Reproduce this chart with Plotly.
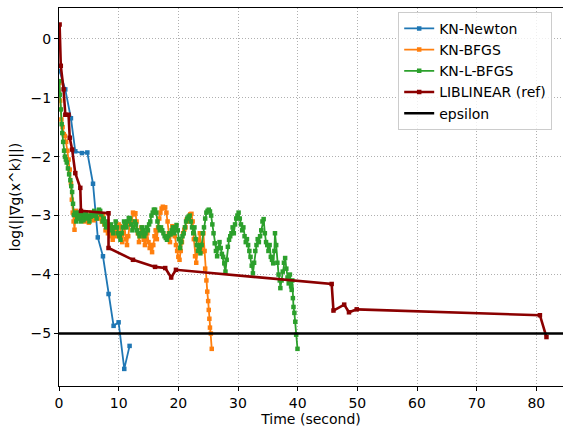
import plotly.graph_objects as go

# ---------------- data ----------------
newton_t = [0.1, 1.05, 2.0, 2.73, 3.85, 4.75, 5.7, 6.5, 7.37, 8.31, 9.15, 9.99, 10.94, 11.83]
newton_g = [-0.55, -0.86, -1.35, -1.91, -1.94, -1.93, -2.46, -3.37, -3.69, -4.33, -4.87, -4.81, -5.6, -5.21]

bfgs_t = [0.05, 0.2, 0.4, 0.6, 0.8, 1.0, 1.2, 1.4, 1.6, 1.8, 2.0, 2.15, 2.3, 2.45, 2.6, 2.8,
          3.0, 3.2, 3.4, 3.6, 3.8, 4.0, 4.2, 4.4, 4.6, 4.8, 5.0, 5.2, 5.4, 5.6, 5.8, 6.0,
          6.2, 6.4, 6.6, 6.8, 7.0, 7.2, 7.4, 7.6, 7.8, 8.0, 8.2, 8.4, 8.6, 8.8, 9.0, 9.2,
          9.4, 9.6, 9.8, 10.0, 10.2, 10.4, 10.6, 10.8, 11.0, 11.2, 11.4, 11.6, 11.8, 12.0,
          12.2, 12.4, 12.6, 12.8, 13.0, 13.2, 13.4, 13.6, 13.8, 14.0, 14.2, 14.4, 14.6, 14.8,
          15.0, 15.2, 15.4, 15.6, 15.8, 16.0, 16.2, 16.4, 16.6, 16.8, 17.0, 17.2, 17.4, 17.6,
          17.8, 18.0, 18.2, 18.4, 18.6, 18.8, 19.0, 19.2, 19.4, 19.6, 19.8, 20.0, 20.2, 20.4,
          20.6, 20.8, 21.0, 21.2, 21.4, 21.6, 21.8, 22.0, 22.2, 22.4, 22.6, 22.8, 23.0, 23.2,
          23.4, 23.6, 23.8, 24.0, 24.2, 24.4, 24.5, 24.7, 24.85, 25.0, 25.1, 25.2, 25.3, 25.45, 25.6]
bfgs_g = [-0.75, -1.05, -1.37, -1.5, -1.62, -1.65, -1.75, -1.9, -2.05, -2.22, -2.45, -2.73, -2.95, -3.1, -3.24, -2.92,
          -2.98, -3.05, -2.95, -3.02, -3.08, -2.97, -3.05, -3.1, -3.0, -3.06, -3.12, -3.0, -2.95, -3.05, -3.08, -3.02,
          -2.98, -3.05, -3.0, -2.95, -3.05, -3.1, -3.0, -3.15, -3.25, -3.2, -3.3, -3.25, -3.35, -3.3, -3.41, -3.3,
          -3.2, -3.35, -3.25, -3.15, -3.18, -3.3, -3.45, -3.3, -3.2, -3.4, -3.5, -3.35, -3.15, -3.05,
          -3.1, -2.95, -2.98, -2.96, -3.1, -3.3, -3.45, -3.3, -3.2, -3.35, -3.41, -3.5, -3.4, -3.3,
          -3.45, -3.55, -3.5, -3.62, -3.5, -3.35, -3.25, -3.4, -3.2, -3.05, -2.95, -2.88, -2.85, -2.87,
          -2.86, -2.95, -3.1, -3.3, -3.45, -3.3, -3.18, -3.2, -3.35, -3.5, -3.6, -3.7, -3.75, -3.6,
          -3.45, -3.3, -3.24, -3.2, -3.07, -3.1, -3.02, -2.98, -2.97, -3.1, -3.4, -3.69, -3.8, -3.6,
          -3.41, -3.3, -3.5, -3.61, -3.3, -3.6, -3.9, -4.1, -4.29, -4.45, -4.6, -4.75, -4.9, -5.0, -5.26]

lbfgs_t = [0.05, 0.15, 0.3, 0.45, 0.55, 0.7, 0.85, 1.0, 1.15, 1.3, 1.5, 1.7, 1.9, 2.05, 2.2, 2.35,
           2.5, 2.7, 2.9, 3.1, 3.3, 3.5, 3.7, 3.9, 4.1, 4.3, 4.5, 4.7, 4.9, 5.1, 5.3, 5.5,
           5.7, 5.9, 6.1, 6.3, 6.5, 6.7, 6.9, 7.1, 7.3, 7.5, 7.7, 7.9, 8.1, 8.3, 8.5, 8.7,
           8.9, 9.1, 9.3, 9.5, 9.7, 9.9, 10.1, 10.3, 10.5, 10.7, 10.9, 11.1, 11.3, 11.5, 11.7, 11.9,
           12.1, 12.3, 12.5, 12.7, 12.9, 13.1, 13.3, 13.5, 13.7, 13.9, 14.1, 14.3, 14.5, 14.7, 14.9, 15.1,
           15.3, 15.5, 15.7, 15.9, 16.1, 16.3, 16.5, 16.7, 16.9, 17.1, 17.3, 17.5, 17.7, 17.9, 18.1, 18.3,
           18.5, 18.7, 18.9, 19.1, 19.3, 19.5, 19.7, 19.9, 20.1, 20.3, 20.5, 20.7, 20.9, 21.1, 21.3, 21.5,
           21.7, 21.9, 22.1, 22.3, 22.5, 22.7, 22.9, 23.1, 23.3, 23.5, 23.7, 23.9, 24.1, 24.3, 24.5, 24.7,
           24.9, 25.1, 25.3, 25.5, 25.7, 25.9, 26.1, 26.3, 26.5, 26.7, 26.9, 27.1, 27.3, 27.5, 27.7, 27.9,
           28.1, 28.3, 28.5, 28.7, 28.9, 29.1, 29.3, 29.5, 29.7, 29.9, 30.1, 30.3, 30.5, 30.7, 30.9, 31.1,
           31.3, 31.5, 31.7, 31.9, 32.1, 32.3, 32.5, 32.7, 32.9, 33.1, 33.3, 33.5, 33.7, 33.9, 34.1, 34.3,
           34.5, 34.7, 34.9, 35.1, 35.3, 35.5, 35.7, 35.9, 36.1, 36.2, 36.4, 36.6, 36.8, 37.0, 37.1, 37.3,
           37.5, 37.7, 37.9, 38.1, 38.3, 38.5, 38.7, 38.9, 39.0, 39.1, 39.2, 39.3, 39.45, 39.6, 39.75, 39.97]
lbfgs_g = [-0.72, -0.95, -1.2, -1.45, -1.6, -1.75, -1.9, -2.0, -2.05, -2.1, -2.2, -2.3, -2.4, -2.5, -2.6, -2.8,
           -2.99, -2.95, -3.1, -3.02, -2.95, -3.05, -3.1, -2.98, -3.08, -3.0, -2.95, -3.05, -3.0, -3.1, -3.02, -2.96,
           -3.0, -2.92, -3.0, -3.05, -2.95, -2.9, -2.92, -2.98, -3.1, -3.05, -3.15, -3.2, -3.1, -3.18, -3.25, -3.15,
           -3.2, -3.3, -3.2, -3.1, -3.2, -3.3, -3.35, -3.41, -3.3, -3.2, -3.1, -3.15, -3.2, -3.1, -3.04, -3.05,
           -3.15, -3.25, -3.2, -3.1, -3.15, -3.25, -3.3, -3.35, -3.3, -3.2, -3.25, -3.35, -3.3, -3.2, -3.25, -3.15,
           -3.1, -3.0, -2.95, -2.9, -2.9, -2.95, -3.1, -3.2, -3.25, -3.2, -3.25, -3.3, -3.35, -3.38, -3.41, -3.35,
           -3.3, -3.32, -3.25, -3.2, -3.3, -3.2, -3.16, -3.25, -3.4, -3.55, -3.45, -3.35, -3.3, -3.2, -3.1, -3.05,
           -3.02, -3.0, -3.1, -3.2, -3.3, -3.2, -3.4, -3.5, -3.6, -3.5, -3.64, -3.5, -3.3, -3.2, -3.05, -2.95,
           -2.92, -2.9, -2.93, -3.0, -3.15, -3.3, -3.47, -3.6, -3.69, -3.55, -3.45, -3.55, -3.65, -3.7, -3.81, -3.95,
           -3.75, -3.53, -3.41, -3.35, -3.3, -3.2, -3.3, -3.15, -3.05, -3.0, -2.95, -3.05, -3.15, -3.25, -3.2, -3.35,
           -3.45, -3.4, -3.5, -3.6, -3.7, -3.85, -3.98, -3.8, -3.6, -3.5, -3.4, -3.45, -3.35, -3.25, -3.1, -3.06,
           -3.3, -3.45, -3.5, -3.6, -3.5, -3.7, -3.75, -3.81, -3.6, -3.3, -3.5, -3.8, -4.0, -4.1, -4.23, -4.1,
           -3.95, -3.8, -3.72, -3.9, -4.05, -4.15, -4.0, -4.2, -4.26, -4.1, -4.4, -4.55, -4.65, -4.8, -5.02, -5.26]

lib_t = [0.1, 0.3, 0.77, 1.06, 1.6, 1.8, 2.2, 2.73, 3.57, 3.68, 8.3, 8.3, 12.4, 16.1, 17.8, 18.8,
         19.6, 45.7, 46.0, 47.8, 48.6, 49.9, 80.6, 81.7]
lib_g = [0.24, -0.46, -0.86, -1.29, -1.29, -1.68, -1.88, -2.28, -2.53, -2.92, -2.96, -3.55, -3.75, -3.87, -3.89, -4.05,
         -3.92, -4.16, -4.61, -4.51, -4.64, -4.59, -4.69, -5.06]

epsilon = -5.0

x_range = [0, 84.47]
y_range = [-5.89, 0.52]
x_ticks = [0, 10, 20, 30, 40, 50, 60, 70, 80]
y_ticks = [0, -1, -2, -3, -4, -5]

FONT = "DejaVu Sans"
FS = 14

fig = go.Figure()

def add_series(t, g, name, color, width, msize):
    fig.add_trace(go.Scatter(
        x=t, y=g, name=name, mode="lines+markers",
        line=dict(color=color, width=width),
        marker=dict(symbol="square", size=msize, color=color, line=dict(width=0)),
    ))

add_series(newton_t, newton_g, "KN-Newton", "#1f77b4", 1.8, 4.5)
add_series(bfgs_t, bfgs_g, "KN-BFGS", "#ff7f0e", 1.8, 4.5)
add_series(lbfgs_t, lbfgs_g, "KN-L-BFGS", "#2ca02c", 1.8, 4.5)
add_series(lib_t, lib_g, "LIBLINEAR (ref)", "#8b0000", 2.6, 4.5)

fig.add_trace(go.Scatter(
    x=x_range, y=[epsilon, epsilon], name="epsilon", mode="lines",
    line=dict(color="black", width=2.6),
))

axis_common = dict(
    showline=True, linecolor="black", linewidth=1,
    ticks="outside", ticklen=4, tickwidth=1, tickcolor="black",
    showgrid=True, gridcolor="#b0b0b0", griddash="1px,2px", gridwidth=1,
    zeroline=False, automargin=False,
    tickfont=dict(family=FONT, size=FS, color="black"),
)

fig.update_xaxes(
    range=x_range, tickvals=x_ticks, mirror=True,
    title=dict(text="Time (second)", font=dict(family=FONT, size=FS, color="black"), standoff=3),
    **axis_common,
)
fig.update_yaxes(
    range=y_range, tickvals=y_ticks,
    title=dict(text="log(||∇g(x^k)||)", font=dict(family=FONT, size=FS, color="black"), standoff=6),
    **axis_common,
)

fig.update_layout(
    width=563, height=428,
    margin=dict(l=59, r=0, t=8, b=42, autoexpand=False),
    plot_bgcolor="white", paper_bgcolor="white",
    font=dict(family=FONT, size=FS, color="black"),
    legend=dict(
        x=0.673, y=0.99, xanchor="left", yanchor="top",
        bgcolor="rgba(255,255,255,0.8)", bordercolor="#cccccc", borderwidth=1,
        font=dict(family=FONT, size=FS, color="black"),
        itemwidth=30,
    ),
    showlegend=True,
)

fig.write_html(
    "out.html",
    config={"displayModeBar": False},
    post_script="document.body.style.margin='0';document.body.style.padding='0';",
)
